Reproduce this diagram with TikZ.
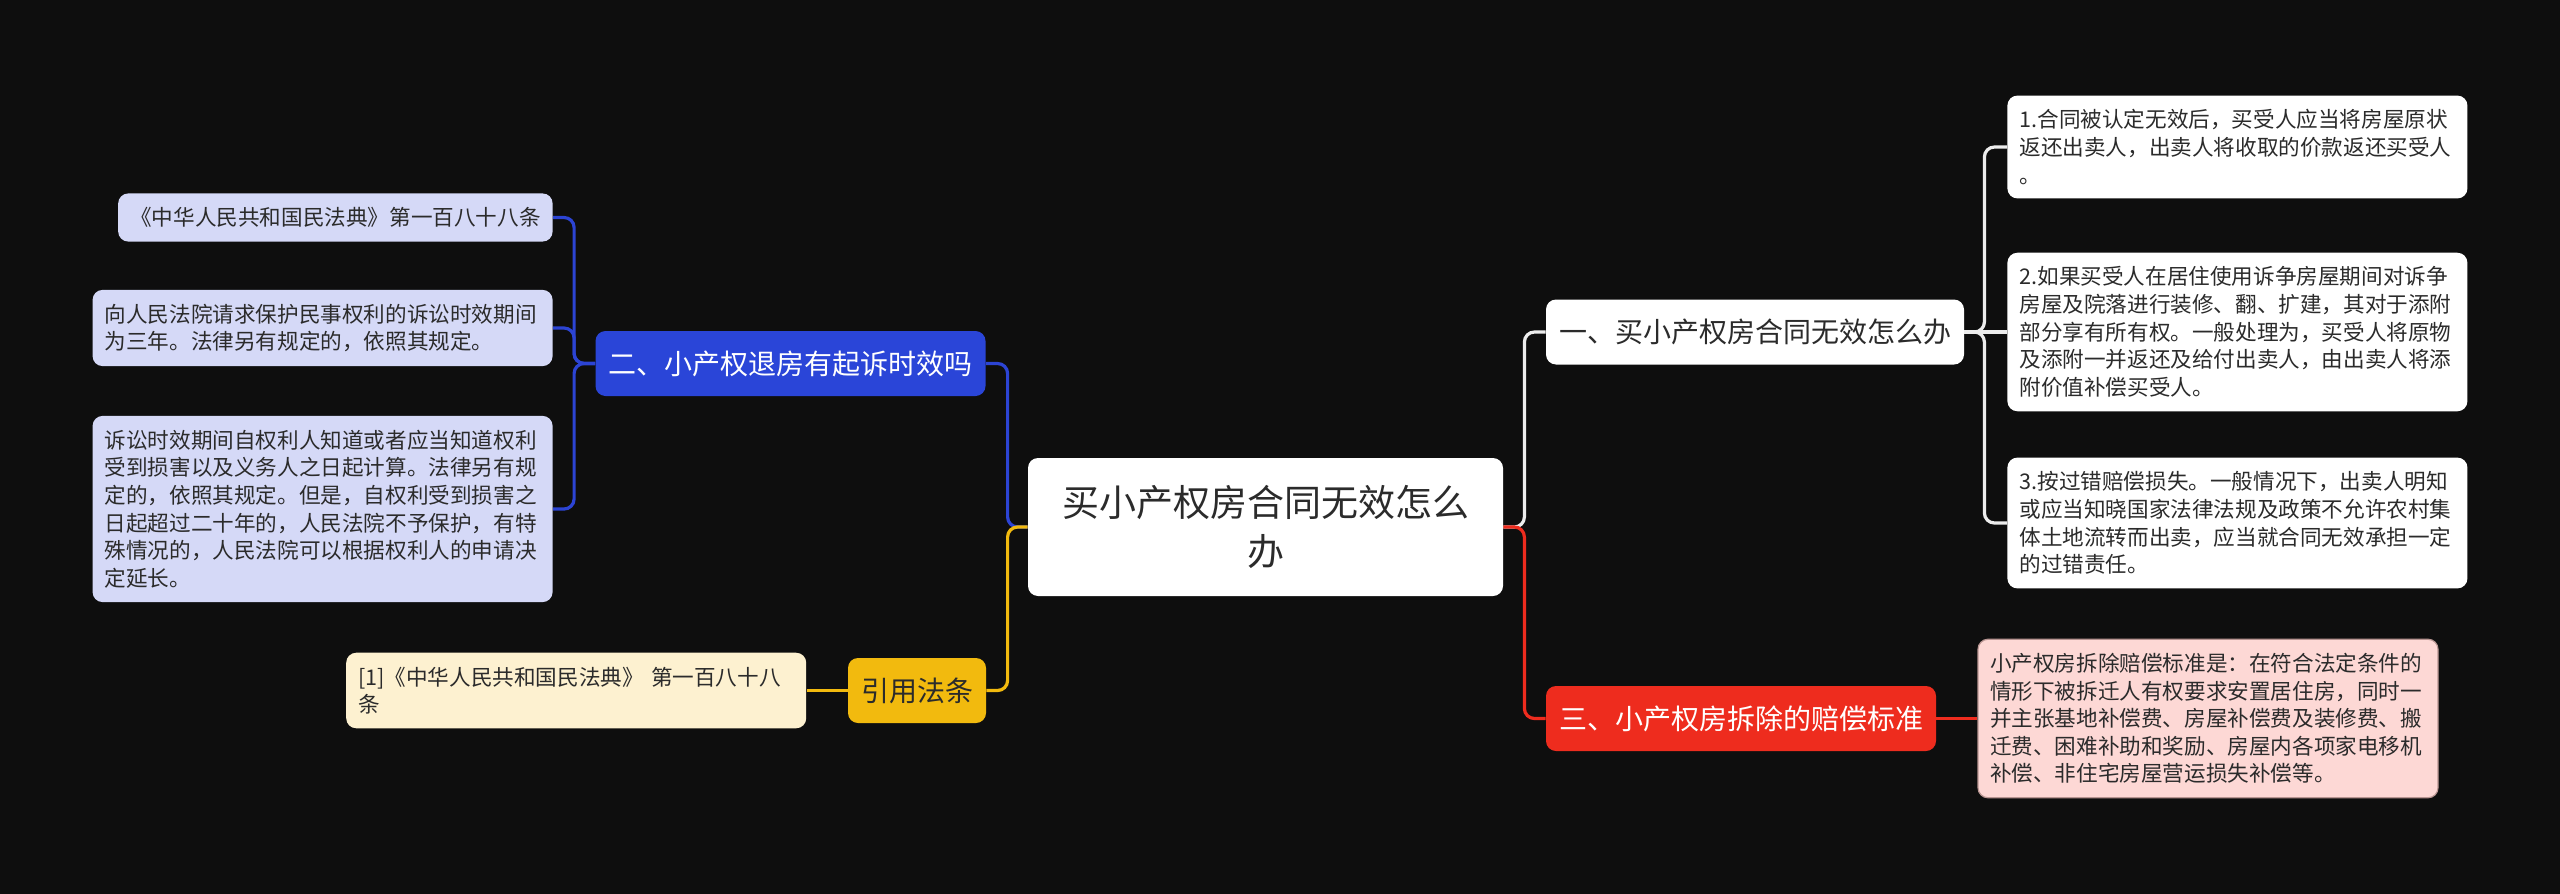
\documentclass[tikz,border=0pt]{standalone}
\usepackage{fontspec}
\setmainfont{Noto Sans CJK SC}
\usetikzlibrary{positioning}

\definecolor{bgdark}{HTML}{0E0E0E}
\definecolor{textdark}{HTML}{2B2B2B}
\definecolor{bluetopic}{HTML}{2A45D8}
\definecolor{bluelink}{HTML}{2C44D4}
\definecolor{blueleaf}{HTML}{D5D9F7}
\definecolor{yellowtopic}{HTML}{F2BA0E}
\definecolor{yellowleaf}{HTML}{FDF1D0}
\definecolor{redtopic}{HTML}{EE2C1E}
\definecolor{redleaf}{HTML}{FDD8D5}
\definecolor{rededge}{HTML}{B89592}
\definecolor{greylink}{HTML}{EDEDED}

\tikzset {
  map node/.style = {
    rounded corners = 5pt,
    inner xsep = 6.5pt,
    text = textdark
  },
  % central topic
  root/.style = {
    map node,
    fill = white,
    minimum width = 237.5pt,
    minimum height = 69pt,
    align = center,
    font = \fontsize{18.5pt}{24.5pt}\selectfont
  },
  % first level topics
  topic/.style = {
    map node,
    minimum height = 32.5pt,
    font = \fontsize{14pt}{17pt}\selectfont
  },
  % detail boxes
  leaf/.style = {
    map node,
    inner xsep = 6pt,
    inner ysep = 7pt,
    align = left,
    font = \fontsize{10.8pt}{13.8pt}\selectfont
  },
  wide leaf/.style = {
    leaf,
    text width = 218pt
  },
  link/.style = {
    line width = 1.6pt,
    rounded corners = 5pt
  },
  node distance = 20.5pt
}

\begin{document}
\begin{tikzpicture}[x=0.5pt, y=-0.5pt]
    \fill[bgdark] (0,0) rectangle (2560,894);
    \useasboundingbox (0,0) rectangle (2560,894);

    \node[root] (root) at (1265.5,527) {买小产权房合同无效怎么\\办};

    \node[topic, fill=white] (topic1) at (1755,332) {一、买小产权房合同无效怎么办};
    \node[topic, fill=bluetopic, text=white] (topic2) at (790.5,363.5) {二、小产权退房有起诉时效吗};
    \node[topic, fill=redtopic, text=white] (topic3) at (1741,718.5) {三、小产权房拆除的赔偿标准};
    \node[topic, fill=yellowtopic] (cite) at (917,690.5) {引用法条};

    % right side details
    \node[wide leaf, fill=white, anchor=west] (leaf1a) at (2007,147)
      {1.合同被认定无效后，买受人应当将房屋原状\\返还出卖人，出卖人将收取的价款返还买受人\\。};
    \node[wide leaf, fill=white, anchor=west] (leaf1b) at (2007,332)
      {2.如果买受人在居住使用诉争房屋期间对诉争\\房屋及院落进行装修、翻、扩建，其对于添附\\部分享有所有权。一般处理为，买受人将原物\\及添附一并返还及给付出卖人，由出卖人将添\\附价值补偿买受人。};
    \node[wide leaf, fill=white, anchor=west] (leaf1c) at (2007,523)
      {3.按过错赔偿损失。一般情况下，出卖人明知\\或应当知晓国家法律法规及政策不允许农村集\\体土地流转而出卖，应当就合同无效承担一定\\的过错责任。};
    \node[wide leaf, fill=redleaf, draw=rededge, line width=0.6pt] (leaf3) [right=of topic3]
      {小产权房拆除赔偿标准是：在符合法定条件的\\情形下被拆迁人有权要求安置居住房，同时一\\并主张基地补偿费、房屋补偿费及装修费、搬\\迁费、困难补助和奖励、房屋内各项家电移机\\补偿、非住宅房屋营运损失补偿等。};

    % left side details
    \node[leaf, fill=blueleaf, anchor=east] (leaf2a) at (553,217.5)
      {《中华人民共和国民法典》第一百八十八条};
    \node[wide leaf, fill=blueleaf, anchor=east] (leaf2b) at (553,328)
      {向人民法院请求保护民事权利的诉讼时效期间\\为三年。法律另有规定的，依照其规定。};
    \node[wide leaf, fill=blueleaf, anchor=east] (leaf2c) at (553,509)
      {诉讼时效期间自权利人知道或者应当知道权利\\受到损害以及义务人之日起计算。法律另有规\\定的，依照其规定。但是，自权利受到损害之\\日起超过二十年的，人民法院不予保护，有特\\殊情况的，人民法院可以根据权利人的申请决\\定延长。};
    \node[wide leaf, fill=yellowleaf] (citeleaf) [left=of cite]
      {[1]《中华人民共和国民法典》 第一百八十八\\条};

    % branches from the root
    \draw[link, draw=greylink] (root.east) -- ++(21,0) |- (topic1.west);
    \draw[link, draw=redtopic] (root.east) -- ++(21,0) |- (topic3.west);
    \draw[link, draw=bluelink] (root.west) -- ++(-20,0) |- (topic2.east);
    \draw[link, draw=yellowtopic] (root.west) -- ++(-20,0) |- (cite.east);

    % sub branches
    \foreach \leaf in {leaf1a, leaf1c}
      \draw[link, draw=greylink] (topic1.east) -- ++(20,0) |- (\leaf.west);
    \draw[link, draw=greylink] (topic1.east) -- (leaf1b.west);
    \foreach \leaf in {leaf2a, leaf2b, leaf2c}
      \draw[link, draw=bluelink] (topic2.west) -- ++(-21,0) |- (\leaf.east);
    \draw[link, draw=redtopic] (topic3.east) -- (leaf3.west);
    \draw[link, draw=yellowtopic] (cite.west) -- (citeleaf.east);
\end{tikzpicture}
\end{document}
